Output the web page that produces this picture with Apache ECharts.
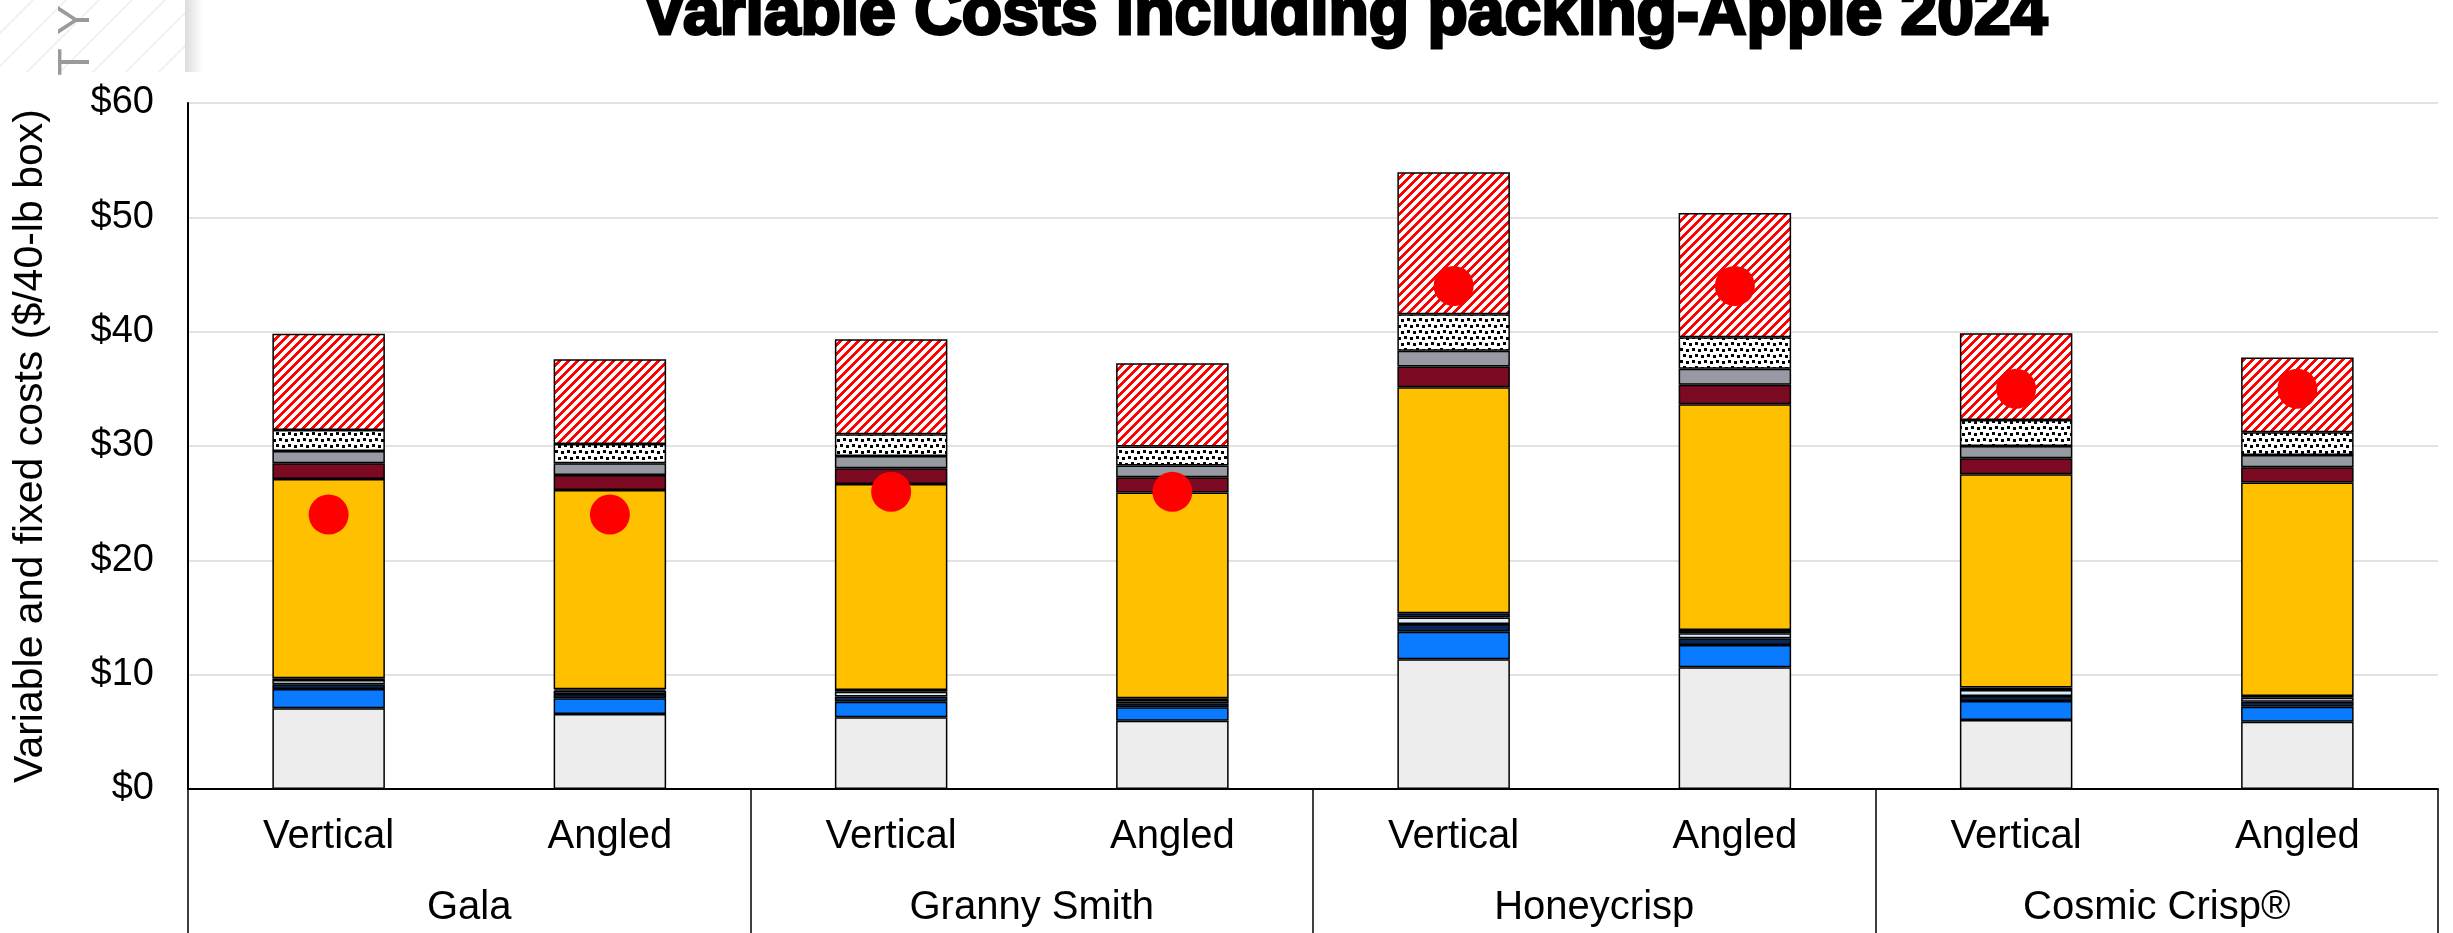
<!DOCTYPE html>
<html>
<head>
<meta charset="utf-8">
<script src="https://cdn.jsdelivr.net/npm/echarts@6/dist/echarts.min.js"></script>
<style>
html,body{margin:0;padding:0;background:#ffffff;}
#chart{width:2453px;height:933px;}
</style>
</head>
<body>
<div id="chart"></div>
<script>
// ---------- data ----------
const chartTitle = 'Variable Costs including packing-Apple 2024';
const yAxisTitle = 'Variable and fixed costs ($/40-lb box)';
const categories = ['Vertical', 'Angled', 'Vertical', 'Angled', 'Vertical', 'Angled', 'Vertical', 'Angled'];
const groups = ['Gala', 'Granny Smith', 'Honeycrisp', 'Cosmic Crisp®'];
const yMin = 0, yMax = 60, yStep = 10;
const watermarkLetters = ['T', 'Y'];

const seg1LightGray = [7.06, 6.56, 6.27, 5.98, 11.35, 10.65, 6.04, 5.89];
const seg2Blue      = [1.69, 1.37, 1.37, 1.17, 2.41, 1.95, 1.66, 1.31];
const seg3Navy      = [0.41, 0.38, 0.44, 0.35, 0.68, 0.58, 0.44, 0.44];
const seg4PaleBlue  = [0.38, 0.29, 0.43, 0.29, 0.55, 0.44, 0.52, 0.35];
const seg5DarkBlue  = [0.14, 0.12, 0.15, 0.14, 0.38, 0.29, 0.21, 0.15];
const seg6Gold      = [17.44, 17.44, 18.02, 18.00, 19.77, 19.74, 18.66, 18.66];
const seg7DarkRed   = [1.37, 1.31, 1.38, 1.34, 1.81, 1.70, 1.40, 1.34];
const seg8Gray      = [1.08, 1.02, 1.07, 1.02, 1.37, 1.40, 1.07, 1.08];
const seg9Dotted    = [1.84, 1.69, 1.90, 1.66, 3.21, 2.77, 2.28, 1.98];
const seg10Striped  = [8.40, 7.41, 8.31, 7.29, 12.42, 10.85, 7.59, 6.54];
const markerValues  = [24, 24, 26, 26, 44, 44, 35, 35];

// ---------- patterns ----------
function stripeCanvas() {
  const s = 9;
  const c = document.createElement('canvas');
  c.width = s; c.height = s;
  const ctx = c.getContext('2d');
  const img = ctx.createImageData(s, s);
  for (let y = 0; y < s; y++) for (let x = 0; x < s; x++) {
    const i = (y * s + x) * 4;
    const red = ((x + y) % s) < 4;
    img.data[i] = 255; img.data[i+1] = red ? 0 : 255; img.data[i+2] = red ? 0 : 255; img.data[i+3] = 255;
  }
  ctx.putImageData(img, 0, 0);
  return c;
}
function confettiCanvas() {
  const c = document.createElement('canvas');
  c.width = 12; c.height = 12;
  const ctx = c.getContext('2d');
  ctx.fillStyle = '#fff'; ctx.fillRect(0, 0, 12, 12);
  ctx.fillStyle = '#000';
  [[0,0],[6,1],[3,6],[9,7]].forEach(p => ctx.fillRect(p[0], p[1], 3, 3));
  return c;
}
function faintStripeCanvas() {
  const s = 33;
  const c = document.createElement('canvas');
  c.width = s; c.height = s;
  const ctx = c.getContext('2d');
  ctx.fillStyle = '#fff'; ctx.fillRect(0, 0, s, s);
  ctx.strokeStyle = '#ededed'; ctx.lineWidth = 1.5;
  [-s, 0, s].forEach(o => {
    ctx.beginPath(); ctx.moveTo(o, s); ctx.lineTo(o + s, 0); ctx.stroke();
  });
  return c;
}

const stripeFill = { image: stripeCanvas(), repeat: 'repeat' };
const confettiFill = { image: confettiCanvas(), repeat: 'repeat' };

const FONT = '"Liberation Sans", Arial, sans-serif';

function barSeries(name, data, color) {
  return {
    name: name, type: 'bar', stack: 'cost', data: data, barWidth: '40%',
    itemStyle: { color: color, borderColor: '#000', borderWidth: 1.5 },
    emphasis: { disabled: true }
  };
}

const series = [
  barSeries('Light gray', seg1LightGray, '#EDEDED'),
  barSeries('Blue', seg2Blue, '#0A7AFF'),
  barSeries('Navy', seg3Navy, '#0B2757'),
  barSeries('Pale blue', seg4PaleBlue, '#DDEBF7'),
  barSeries('Dark blue', seg5DarkBlue, '#0B2757'),
  barSeries('Gold', seg6Gold, '#FFC000'),
  barSeries('Dark red', seg7DarkRed, '#7C0A23'),
  barSeries('Gray', seg8Gray, '#979AA3'),
  barSeries('Dotted', seg9Dotted, confettiFill),
  barSeries('Striped', seg10Striped, stripeFill),
  {
    name: 'Marker', type: 'scatter', data: markerValues, symbol: 'circle', symbolSize: 40,
    itemStyle: { color: '#FF0000', opacity: 1 }, z: 5, emphasis: { disabled: true }
  }
];

const chart = echarts.init(document.getElementById('chart'), null, { renderer: 'canvas' });

const graphics = [
  { type: 'rect', shape: { x: 0, y: 0, width: 185, height: 72 },
    style: { fill: { image: faintStripeCanvas(), repeat: 'repeat' } }, z: 0, silent: true },
  { type: 'rect', shape: { x: 185, y: 0, width: 18, height: 72 },
    style: { fill: new echarts.graphic.LinearGradient(0, 0, 1, 0, [
      { offset: 0, color: '#dcdcdc' }, { offset: 1, color: '#ffffff' }]) }, z: 0, silent: true },
  { type: 'text', x: 1345, y: 16,
    style: { text: chartTitle, fontSize: 66, fontWeight: 'bold', fontFamily: FONT, fill: '#000',
      align: 'center', verticalAlign: 'middle', stroke: '#000', lineWidth: 3 }, z: 10 },
  { type: 'text', x: 31, y: 446, rotation: Math.PI / 2,
    style: { text: yAxisTitle, fontSize: 41, fontFamily: FONT, fill: '#000',
      align: 'center', verticalAlign: 'middle' }, z: 10 }
];
const letterY = [62, 20];
watermarkLetters.forEach((ch, i) => {
  graphics.push({ type: 'text', x: 77, y: letterY[i], rotation: Math.PI / 2,
    style: { text: ch, fontSize: 45, fontFamily: FONT, fill: '#9a9a9a', align: 'center', verticalAlign: 'middle' }, z: 1 });
});

chart.setOption({
  animation: false,
  backgroundColor: '#ffffff',
  grid: { left: 188, right: 15, top: 103, bottom: 144, containLabel: false },
  xAxis: [
    {
      type: 'category', data: categories, position: 'bottom',
      axisLine: { show: true, lineStyle: { color: '#000', width: 2 } },
      axisTick: { show: false },
      axisLabel: { interval: 0, margin: 28, fontSize: 40, lineHeight: 40, fontFamily: FONT, color: '#000' },
      splitLine: { show: false }
    },
    {
      type: 'category', data: groups, position: 'bottom',
      axisLine: { show: false },
      axisTick: { show: true, interval: 0, length: 150, lineStyle: { color: '#000', width: 1.5 } },
      axisLabel: { interval: 0, margin: 99, fontSize: 40, lineHeight: 40, fontFamily: FONT, color: '#000' },
      splitLine: { show: false }
    }
  ],
  yAxis: {
    type: 'value', min: yMin, max: yMax, interval: yStep,
    axisLine: { show: true, lineStyle: { color: '#000', width: 2 } },
    axisTick: { show: false },
    axisLabel: { formatter: v => '$' + v, fontSize: 38, fontFamily: FONT, color: '#000', margin: 34 },
    splitLine: { show: true, lineStyle: { color: '#D9D9D9', width: 1.5 } }
  },
  graphic: graphics,
  series: series
});
</script>
</body>
</html>
